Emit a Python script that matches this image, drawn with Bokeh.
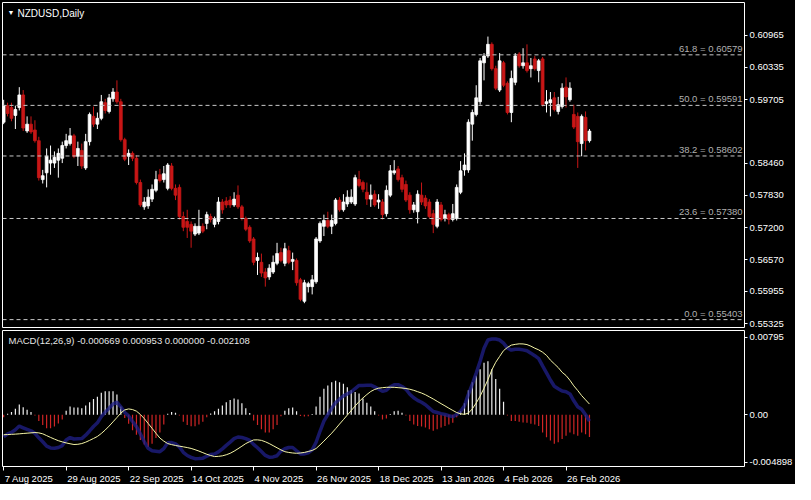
from bokeh.plotting import figure
from bokeh.layouts import column
from bokeh.models import (ColumnDataSource, FixedTicker, PrintfTickFormatter, Label, Range1d, Span)
from bokeh.core.properties import value
from bokeh.embed import file_html
from bokeh.resources import INLINE

symbol_title = "NZDUSD,Daily"
macd_title = "MACD(12,26,9) -0.000669 0.000953 0.000000 -0.002108"

opens = [0.59262,0.59586,0.59548,0.59395,0.59548,0.59795,0.59091,0.59224,0.59110,0.58901,
         0.58140,0.58273,0.58463,0.58463,0.58520,0.58558,0.58806,0.58844,0.58996,0.58596,
         0.58711,0.58368,0.58882,0.59376,0.59224,0.59338,0.59643,0.59472,0.59719,0.59852,
         0.59662,0.58920,0.58596,0.58653,0.58558,0.58083,0.57607,0.57626,0.57759,0.57931,
         0.58235,0.58140,0.57969,0.58406,0.57969,0.57988,0.57417,0.57322,0.57265,0.57075,
         0.57094,0.57227,0.57284,0.57417,0.57265,0.57322,0.57702,0.57721,0.57740,0.57645,
         0.57836,0.57607,0.57379,0.57208,0.56980,0.56561,0.56523,0.56333,0.56238,0.56333,
         0.56504,0.56713,0.56504,0.56751,0.56542,0.56561,0.56181,0.55762,0.56048,0.56048,
         0.56143,0.56942,0.57227,0.57341,0.57227,0.57284,0.57740,0.57550,0.57664,0.57702,
         0.57664,0.58140,0.58083,0.57893,0.57759,0.57855,0.57702,0.57702,0.57474,0.57836,
         0.58273,0.58349,0.58178,0.58045,0.57836,0.57550,0.57512,0.57836,0.57778,0.57702,
         0.57474,0.57227,0.57645,0.57379,0.57455,0.57360,0.57379,0.57893,0.58330,0.58330,
         0.59224,0.59414,0.59662,0.60423,0.60556,0.60784,0.60309,0.59890,0.60423,0.60023,
         0.59452,0.60042,0.60594,0.60366,0.60423,0.60309,0.60499,0.60271,0.60499,0.59624,
         0.59643,0.59738,0.59472,0.59567,0.59947,0.59700,0.59414,0.59376,0.58844,0.59357,
         0.58901]
highs = [0.59700,0.59643,0.59643,0.59586,0.59947,0.59890,0.59376,0.59376,0.59300,0.58977,
         0.58330,0.58749,0.58806,0.58691,0.58749,0.58882,0.59034,0.59148,0.59034,0.58882,
         0.58844,0.59034,0.59452,0.59567,0.59452,0.59795,0.59719,0.59814,0.59928,0.60080,
         0.59719,0.58958,0.58730,0.58691,0.58615,0.58140,0.57797,0.57950,0.58045,0.58311,
         0.58349,0.58406,0.58463,0.58463,0.58045,0.58045,0.57512,0.57550,0.57322,0.57284,
         0.57550,0.57284,0.57512,0.57474,0.57417,0.57797,0.57759,0.57797,0.57816,0.57893,
         0.58026,0.57645,0.57417,0.57246,0.57018,0.56713,0.56694,0.56409,0.56485,0.56656,
         0.56904,0.56808,0.56904,0.56846,0.56713,0.56599,0.56219,0.56181,0.56143,0.56276,
         0.57018,0.57322,0.57455,0.57512,0.57455,0.57778,0.57797,0.57855,0.57931,0.57950,
         0.58235,0.58311,0.58121,0.58083,0.58045,0.57931,0.57855,0.57759,0.58026,0.58425,
         0.58520,0.58406,0.58235,0.58121,0.57893,0.57702,0.57931,0.58083,0.57836,0.57759,
         0.57550,0.57759,0.57702,0.57550,0.57493,0.57664,0.58045,0.58501,0.58653,0.59319,
         0.59510,0.59985,0.60518,0.60613,0.60936,0.60822,0.60366,0.60613,0.60461,0.60061,
         0.60271,0.60613,0.60632,0.60708,0.60784,0.60518,0.60556,0.60499,0.60537,0.59890,
         0.59852,0.59852,0.59757,0.60023,0.60137,0.60042,0.59605,0.59452,0.59414,0.59472,
         0.59129]
lows = [0.59224,0.59376,0.59281,0.59129,0.59491,0.59091,0.59053,0.59034,0.58863,0.58121,
        0.58064,0.57988,0.58235,0.58368,0.58178,0.58463,0.58749,0.58806,0.58558,0.58406,
        0.58349,0.58330,0.58806,0.59167,0.59129,0.59300,0.59433,0.59433,0.59662,0.59624,
        0.58882,0.58501,0.58425,0.58501,0.58045,0.57607,0.57550,0.57569,0.57702,0.57893,
        0.58083,0.58083,0.57931,0.57931,0.57740,0.57360,0.57132,0.56999,0.56808,0.57037,
        0.57056,0.57094,0.57170,0.57303,0.57208,0.57265,0.57474,0.57588,0.57588,0.57607,
        0.57569,0.57341,0.57132,0.56904,0.56466,0.56276,0.56238,0.56048,0.56181,0.56295,
        0.56466,0.56523,0.56447,0.56485,0.56371,0.56067,0.55762,0.55724,0.55934,0.55896,
        0.56105,0.56904,0.57037,0.57189,0.57075,0.57246,0.57512,0.57512,0.57607,0.57664,
        0.57626,0.57988,0.57893,0.57645,0.57607,0.57607,0.57569,0.57360,0.57417,0.57797,
        0.58235,0.58102,0.57893,0.57702,0.57474,0.57493,0.57284,0.57645,0.57569,0.57379,
        0.57094,0.57189,0.57322,0.57322,0.57265,0.57322,0.57341,0.57855,0.58216,0.58273,
        0.58901,0.59376,0.59605,0.60080,0.60518,0.60271,0.59890,0.59852,0.59947,0.59414,
        0.59262,0.59985,0.60328,0.60309,0.60233,0.60137,0.60271,0.60042,0.59567,0.59452,
        0.59376,0.59472,0.59414,0.59529,0.59548,0.59662,0.59129,0.58368,0.58596,0.58711,
        0.58863]
closes = [0.59586,0.59433,0.59338,0.59510,0.59795,0.59148,0.59224,0.59072,0.58901,0.58178,
          0.58216,0.58596,0.58520,0.58577,0.58653,0.58806,0.58901,0.58996,0.58596,0.58749,
          0.58406,0.58882,0.59414,0.59224,0.59338,0.59662,0.59491,0.59738,0.59852,0.59662,
          0.58920,0.58539,0.58653,0.58558,0.58083,0.57645,0.57702,0.57797,0.57950,0.58140,
          0.58121,0.58254,0.58425,0.57969,0.57836,0.57417,0.57208,0.57208,0.57132,0.57227,
          0.57227,0.57132,0.57455,0.57360,0.57360,0.57702,0.57550,0.57645,0.57645,0.57759,
          0.57607,0.57379,0.57170,0.56942,0.56523,0.56618,0.56314,0.56219,0.56409,0.56523,
          0.56694,0.56561,0.56789,0.56523,0.56580,0.56124,0.55800,0.56124,0.56105,0.56181,
          0.56980,0.57284,0.57341,0.57227,0.57341,0.57740,0.57550,0.57702,0.57797,0.57797,
          0.58178,0.58026,0.57950,0.57759,0.57836,0.57645,0.57740,0.57455,0.57931,0.58311,
          0.58311,0.58140,0.57950,0.57740,0.57550,0.57645,0.57855,0.57702,0.57626,0.57417,
          0.57265,0.57702,0.57360,0.57455,0.57360,0.57474,0.57988,0.58311,0.58425,0.59262,
          0.59452,0.59738,0.60461,0.60556,0.60784,0.60309,0.59928,0.60461,0.59985,0.59452,
          0.60118,0.60556,0.60366,0.60423,0.60271,0.60366,0.60309,0.60461,0.59605,0.59662,
          0.59700,0.59510,0.59605,0.59928,0.59757,0.59928,0.59167,0.58882,0.59376,0.58901,
          0.59088]

# MACD panel values, in thousandths (x 1e-3)
macd_main_e3 = [-2.09,-1.81,-1.67,-1.42,-1.08,-1.24,-1.40,-1.53,-1.76,-2.19,-2.56,
                -2.97,-3.14,-3.18,-3.10,-2.92,-2.39,-2.16,-2.30,-2.28,-2.26,
                -1.94,-1.54,-1.12,-0.77,-0.18,0.24,0.61,1.01,1.19,0.74,
                0.21,-0.12,-0.65,-1.13,-1.82,-2.54,-3.18,-3.41,-3.45,-3.50,
                -3.21,-2.66,-2.64,-2.77,-3.05,-3.56,-3.86,-4.04,-4.16,-4.15,
                -4.11,-3.93,-3.77,-3.72,-3.52,-3.23,-2.90,-2.59,-2.27,-2.11,
                -2.16,-2.26,-2.43,-2.81,-3.13,-3.49,-3.85,-4.02,-3.99,-3.88,
                -3.45,-3.22,-3.10,-3.10,-3.41,-3.71,-3.71,-3.60,-3.33,-2.61,
                -1.57,-0.62,0.00,0.60,1.14,1.46,1.77,1.96,2.16,2.47,
                2.76,2.76,2.77,2.78,2.62,2.43,2.20,2.30,2.64,2.82,
                2.83,2.66,2.40,1.93,1.59,1.35,1.17,0.94,0.62,0.30,
                0.20,0.10,0.01,-0.10,-0.19,0.01,0.32,0.85,1.92,2.89,
                3.92,5.05,6.27,7.05,7.15,7.15,7.05,6.75,6.28,6.10,
                6.17,6.17,6.12,6.03,5.81,5.57,5.30,4.61,3.95,3.27,
                2.68,2.45,2.23,2.17,1.96,1.31,0.75,0.51,-0.01,-0.62]
macd_signal_e3 = [-1.90,-1.88,-1.86,-1.84,-1.81,-1.78,-1.75,-1.72,-1.69,-1.72,-1.81,
                  -1.98,-2.15,-2.31,-2.46,-2.57,-2.67,-2.75,-2.82,-2.80,-2.73,
                  -2.60,-2.43,-2.25,-2.06,-1.78,-1.45,-1.08,-0.68,-0.27,0.15,
                  0.45,0.54,0.48,0.33,0.02,-0.37,-0.83,-1.29,-1.76,-2.21,
                  -2.50,-2.73,-2.83,-2.91,-2.98,-3.04,-3.11,-3.19,-3.31,-3.44,
                  -3.59,-3.74,-3.86,-3.96,-3.94,-3.89,-3.79,-3.65,-3.45,-3.22,
                  -2.98,-2.73,-2.55,-2.39,-2.38,-2.43,-2.56,-2.73,-2.93,-3.13,
                  -3.33,-3.50,-3.57,-3.62,-3.65,-3.62,-3.57,-3.48,-3.38,-3.20,
                  -2.86,-2.50,-2.12,-1.75,-1.33,-0.89,-0.47,-0.04,0.39,0.82,
                  1.23,1.58,1.90,2.19,2.38,2.50,2.55,2.58,2.59,2.58,
                  2.55,2.52,2.47,2.40,2.30,2.17,2.04,1.88,1.68,1.48,
                  1.26,1.04,0.83,0.61,0.40,0.20,0.08,0.03,0.15,0.54,
                  1.10,1.75,2.50,3.30,4.22,4.95,5.50,6.05,6.35,6.57,
                  6.64,6.69,6.68,6.62,6.47,6.28,6.12,5.90,5.60,5.15,
                  4.80,4.45,4.00,3.70,3.25,2.72,2.28,1.80,1.40,1.00]
macd_hist_e3 = [-0.25,0.09,0.25,0.55,0.95,0.70,0.46,0.25,-0.09,-0.61,-0.98,
                -1.29,-1.29,-1.13,-0.83,-0.46,0.37,0.77,0.67,0.67,0.61,
                0.86,1.16,1.47,1.68,2.08,2.20,2.20,2.20,1.90,0.77,
                -0.31,-0.86,-1.47,-1.90,-2.39,-2.82,-3.06,-2.75,-2.20,-1.68,
                -0.92,0.09,0.25,0.18,-0.09,-0.67,-0.98,-1.10,-1.10,-0.92,
                -0.67,-0.25,0.12,0.31,0.55,0.86,1.16,1.38,1.53,1.44,
                1.07,0.61,0.15,-0.55,-0.98,-1.38,-1.68,-1.68,-1.38,-0.98,
                -0.15,0.37,0.61,0.67,0.31,-0.12,-0.18,-0.15,0.06,0.77,
                1.68,2.45,2.75,3.06,3.21,3.06,2.91,2.60,2.30,2.14,
                1.99,1.53,1.13,0.77,0.31,-0.09,-0.46,-0.37,0.06,0.31,
                0.37,0.18,-0.09,-0.61,-0.92,-1.07,-1.13,-1.22,-1.38,-1.53,
                -1.38,-1.22,-1.07,-0.92,-0.77,-0.25,0.31,1.07,2.30,3.06,
                3.67,4.28,4.90,5.05,4.28,3.37,2.45,1.22,-0.09,-0.61,
                -0.61,-0.67,-0.73,-0.77,-0.86,-0.92,-1.07,-1.68,-2.14,-2.45,
                -2.75,-2.60,-2.30,-1.99,-1.68,-1.84,-1.99,-1.68,-1.84,-2.11]

date_tick_bars = [0, 16, 32, 48, 64, 80, 96, 112, 128, 144]
date_tick_labels = ["7 Aug 2025", "29 Aug 2025", "22 Sep 2025", "14 Oct 2025", "4 Nov 2025",
                    "26 Nov 2025", "18 Dec 2025", "13 Jan 2026", "4 Feb 2026", "26 Feb 2026"]
price_ticks = [0.60965, 0.60335, 0.59705, 0.58460, 0.57830, 0.57200, 0.56570, 0.55955, 0.55325]
fib_levels = [0.60579, 0.59591, 0.58602, 0.57380, 0.55403]
fib_names = ["61.8", "50.0", "38.2", "23.6", "0.0"]
last_price = 0.59088
price_min, price_max = 0.55249, 0.61602
macd_min, macd_max = -0.004898, 0.00795
macd_label_ticks = [0.00732, 0.0, -0.00452]
macd_label_texts = ["0.00795", "0.00", "-0.004898"]

BULL = "#ffffff"
BEAR = "#c81616"
FONT = "Liberation Sans"
FS = "9.5px"
RB = 46  # right border for price scale
W = 795

n = len(closes)
idx = list(range(n))
colors = [BULL if c >= o else BEAR for o, c in zip(opens, closes)]
src = ColumnDataSource(dict(
    x=idx, open=opens, high=highs, low=lows, close=closes,
    top=[max(o, c) for o, c in zip(opens, closes)],
    bottom=[min(o, c) for o, c in zip(opens, closes)],
    color=colors))

xr = Range1d(-0.3, 189.7)

p = figure(width=W, height=329, x_range=xr, y_range=Range1d(price_min, price_max),
           x_axis_location=None, y_axis_location="right",
           toolbar_location=None, output_backend="svg",
           background_fill_color="black", border_fill_color="black",
           min_border_left=2, min_border_right=RB, min_border_top=2, min_border_bottom=2,
           outline_line_color="white", outline_line_width=1)
p.grid.grid_line_color = None

for lvl in fib_levels:
    p.add_layout(Span(location=lvl, dimension="width", line_color="#c8c8c8",
                      line_dash="4 3", line_width=1))
p.text(x=[xr.end - 0.5] * len(fib_levels), y=fib_levels,
       text=[f"{nm} = {lvl:.5f}" for nm, lvl in zip(fib_names, fib_levels)],
       text_align="right", text_baseline="bottom", y_offset=-1,
       text_color="#b0b0b0", text_font=value(FONT), text_font_size=FS)

p.segment(x0="x", y0="low", x1="x", y1="high", line_color="color", line_width=1, source=src)
p.vbar(x="x", width=0.72, top="top", bottom="bottom", fill_color="color",
       line_color="color", line_width=0.8, source=src)

ya = p.yaxis[0]
ya.ticker = FixedTicker(ticks=price_ticks)
ya.formatter = PrintfTickFormatter(format="%.5f")
ya.major_label_text_color = "white"
ya.major_label_text_font = FONT
ya.major_label_text_font_size = FS
ya.axis_line_color = None
ya.major_tick_line_color = "white"
ya.major_tick_out = 3
ya.major_tick_in = 0
ya.minor_tick_line_color = None
ya.major_label_standoff = 2

p.add_layout(Label(x=xr.start, y=price_max, x_offset=5, y_offset=-6, text="▼",
                   text_color="white", text_font_size="7px", text_baseline="top"))
p.add_layout(Label(x=xr.start, y=price_max, x_offset=15, y_offset=-5, text=symbol_title,
                   text_color="white", text_font=FONT, text_font_size="10px",
                   text_baseline="top"))
p.add_layout(Label(x=xr.end, y=last_price, x_offset=2, text=f"{last_price:.5f}",
                   text_color="black", background_fill_color="white",
                   text_font=FONT, text_font_size=FS, text_baseline="middle"))

# ---- MACD panel
m = figure(width=W, height=142, x_range=xr, y_range=Range1d(macd_min, macd_max),
           y_axis_location="right", toolbar_location=None, output_backend="svg",
           background_fill_color="black", border_fill_color="black",
           min_border_left=2, min_border_right=RB, min_border_top=1, min_border_bottom=5,
           outline_line_color="white", outline_line_width=1)
m.grid.grid_line_color = None

hist = [v * 1e-3 for v in macd_hist_e3]
hsrc = ColumnDataSource(dict(x=idx, y0=[0.0] * n, y1=hist,
                             color=["#f0f0f0" if v >= 0 else "#d02525" for v in hist]))
m.segment(x0="x", y0="y0", x1="x", y1="y1", line_color="color", line_width=1.2, source=hsrc)
m.line(idx, [v * 1e-3 for v in macd_main_e3], line_color="#20208a", line_width=3.5, line_alpha=0.75)
m.line(idx, [v * 1e-3 for v in macd_signal_e3], line_color="#f4f4a6", line_width=1)

mya = m.yaxis[0]
mya.ticker = FixedTicker(ticks=macd_label_ticks)
mya.major_label_overrides = {t: s for t, s in zip(macd_label_ticks, macd_label_texts)}
mya.major_label_text_color = "white"
mya.major_label_text_font = FONT
mya.major_label_text_font_size = FS
mya.axis_line_color = None
mya.major_tick_line_color = "white"
mya.major_tick_out = 3
mya.major_tick_in = 0
mya.minor_tick_line_color = None
mya.major_label_standoff = 2

mxa = m.xaxis[0]
mxa.ticker = FixedTicker(ticks=date_tick_bars)
mxa.major_label_overrides = {b: "" for b in date_tick_bars}
mxa.major_label_text_font_size = "1px"
mxa.major_label_standoff = 0
mxa.axis_line_color = None
mxa.major_tick_line_color = "white"
mxa.major_tick_out = 4
mxa.major_tick_in = 0
mxa.minor_tick_line_color = None

m.add_layout(Label(x=xr.start, y=macd_max, x_offset=6, y_offset=-4, text=macd_title,
                   text_color="#e6e6e6", text_font=FONT, text_font_size=FS,
                   text_baseline="top"))

# ---- date strip: labels start at their tick, as on the reference
d = figure(width=W, height=13, x_range=xr, y_range=Range1d(0, 1),
           x_axis_location=None, y_axis_location=None,
           toolbar_location=None, output_backend="svg",
           background_fill_color="black", border_fill_color="black",
           min_border_left=2, min_border_right=RB, min_border_top=0, min_border_bottom=0,
           outline_line_color=None)
d.grid.grid_line_color = None
d.text(x=date_tick_bars, y=[0.5] * len(date_tick_bars), text=date_tick_labels,
       x_offset=1, text_align="left", text_baseline="middle",
       text_color="white", text_font=value(FONT), text_font_size=FS)

layout = column(p, m, d, spacing=0, styles={"background-color": "black"})
open("out.html", "w").write(file_html(layout, INLINE))
